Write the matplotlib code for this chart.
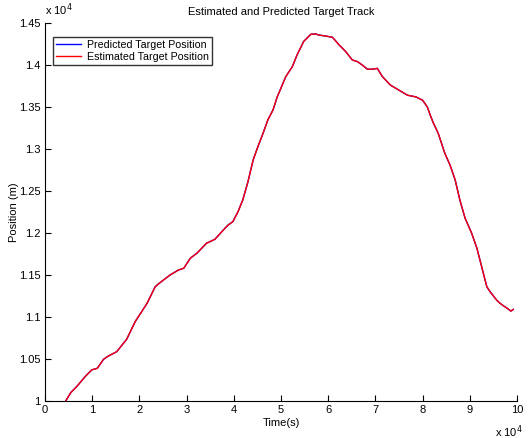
import matplotlib
matplotlib.use('Agg')
import matplotlib.pyplot as plt
import numpy as np
from matplotlib.ticker import FuncFormatter

plt.rcParams['font.family'] = ['Liberation Sans', 'DejaVu Sans']

# time in s, position in m (axis scale x 10^4)
tempo = np.array([0.44, 0.545, 0.67, 0.85, 0.99, 1.11, 1.24, 1.345, 1.52, 1.73,
                  1.91, 2.16, 2.335, 2.44, 2.65, 2.83, 2.94, 3.08, 3.22, 3.42,
                  3.60, 3.81, 3.88, 3.98, 4.09, 4.19, 4.30, 4.41, 4.51, 4.62,
                  4.72, 4.83, 4.92, 5.10, 5.24, 5.34, 5.48, 5.63, 5.73, 5.80,
                  5.94, 6.09, 6.23, 6.37, 6.51, 6.62, 6.72, 6.83, 6.94, 7.04,
                  7.15, 7.32, 7.50, 7.68, 7.86, 8.00, 8.10, 8.16, 8.23, 8.33,
                  8.47, 8.58, 8.69, 8.79, 8.90, 9.04, 9.15, 9.25, 9.36, 9.43,
                  9.57, 9.64, 9.72, 9.80, 9.87, 9.92]) * 1e4
posStimata = np.array([1.000, 1.0099, 1.017, 1.029, 1.037, 1.039, 1.0496, 1.0536, 1.0587, 1.0734,
                       1.0944, 1.116, 1.136, 1.141, 1.150, 1.156, 1.158, 1.170, 1.176, 1.1877,
                       1.1925, 1.2055, 1.2095, 1.2135, 1.2254, 1.2393, 1.261, 1.287, 1.3027, 1.3187,
                       1.3345, 1.3464, 1.362, 1.386, 1.398, 1.412, 1.428, 1.4365, 1.437, 1.4357,
                       1.4345, 1.433, 1.424, 1.416, 1.406, 1.404, 1.400, 1.395, 1.395, 1.396,
                       1.386, 1.376, 1.370, 1.364, 1.362, 1.358, 1.350, 1.3405, 1.3306, 1.3187,
                       1.2949, 1.281, 1.263, 1.239, 1.2175, 1.1996, 1.1818, 1.160, 1.136, 1.130,
                       1.120, 1.1163, 1.113, 1.110, 1.107, 1.109]) * 1e4
posPredetta = posStimata.copy()

xTicks = np.arange(0, 11) * 1e4
yTicks = np.arange(1.0, 1.451, 0.05) * 1e4

fig = plt.figure(figsize=(5.31, 4.38), dpi=100)
ax = fig.add_axes([0.0847, 0.0845, 0.889, 0.863])

ax.plot(tempo, posPredetta, color='blue', lw=1, label='Predicted Target Position')
ax.plot(tempo, posStimata, color='red', lw=1, label='Estimated Target Position')

ax.set_xlim(0, 1e5)
ax.set_ylim(1e4, 1.45e4)
ax.set_xticks(xTicks)
ax.set_yticks(yTicks)
fmt = FuncFormatter(lambda v, p: '%g' % round(v / 1e4, 2))
ax.xaxis.set_major_formatter(fmt)
ax.yaxis.set_major_formatter(fmt)
ax.tick_params(direction='in', length=4, labelsize=8, width=0.8, pad=3)
ax.spines['top'].set_visible(False)
ax.spines['right'].set_visible(False)

ax.set_title('Estimated and Predicted Target Track', fontsize=8, pad=6)
ax.set_xlabel('Time(s)', fontsize=8, labelpad=2)
ax.set_ylabel('Position (m)', fontsize=8, labelpad=0)

ax.text(0.0, 1.012, 'x 10$^4$', transform=ax.transAxes, fontsize=8, ha='left', va='bottom')
ax.text(1.012, -0.058, 'x 10$^4$', transform=ax.transAxes, fontsize=8, ha='right', va='top')

leg = ax.legend(loc='upper left', bbox_to_anchor=(0.017, 0.963), fontsize=7.7, frameon=True,
                fancybox=False, edgecolor='black', borderpad=0.3, handlelength=2.3,
                handletextpad=0.6, labelspacing=0.15, borderaxespad=0)
leg.get_frame().set_linewidth(1)

fig.savefig('out.png', dpi=100)
